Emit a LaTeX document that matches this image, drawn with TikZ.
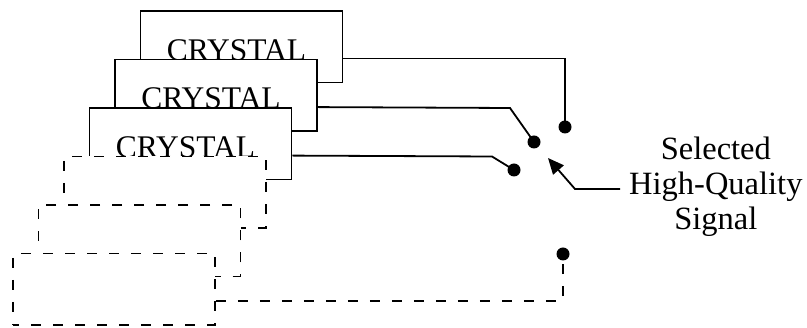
\documentclass[tikz,border=0pt]{standalone}
\usepackage{fontspec}
\setmainfont{Liberation Serif}
\usetikzlibrary{calc,arrows.meta}
\begin{document}
\begin{tikzpicture}[x=1pt,y=-1pt,
  crystalbox/.style={draw, fill=white, line width=1.8pt, rectangle, inner sep=0pt,
    minimum width=202pt, minimum height=71.5pt},
  ghostbox/.style={crystalbox, dash pattern=on 10pt off 12pt, dash phase=4pt},
  boxtext/.style={anchor=base, inner sep=0pt, font=\fontsize{31.5}{36}\selectfont},
  wire/.style={line width=1.8pt},
  ghostwire/.style={wire, dash pattern=on 10pt off 12pt},
  contact/.style={circle, fill=black, inner sep=0pt, minimum size=13pt},
  labeltext/.style={align=center, inner sep=0pt, font=\fontsize{32.5}{35}\selectfont}]
\useasboundingbox (0,0) rectangle (807,328);
% stacked crystals
\node[crystalbox] (b1) at (241.5,46.75) {};
\node[boxtext] (t1) at ($(b1.north)+(-5,50)$) {CRYSTAL};
\node[crystalbox] (b2) at (216,95.25) {};
\node[boxtext] (t2) at ($(b2.north)+(-5,50)$) {CRYSTAL};
\node[crystalbox] (b3) at (190.5,143.75) {};
\node[boxtext] (t3) at ($(b3.north)+(-5,50)$) {CRYSTAL};
\node[ghostbox] (b4) at (165,192.25) {};
\node[ghostbox] (b5) at (139.5,240.75) {};
\node[ghostbox] (b6) at (114,289.25) {};
% contacts
\node[contact] (d1) at (565,127) {};
\node[contact] (d2) at (534,142) {};
\node[contact] (d3) at (514,170) {};
\node[contact] (d4) at (563,254) {};
% wires
\draw[wire] ($(b1.north east)+(0,48.5)$) -| (d1.center);
\draw[wire] ($(b2.north east)+(0,48.5)$) -- (510,108) -- (d2.center);
\draw[wire] ($(b3.north east)+(0,48.5)$) -- (492,156.5) -- (d3.center);
\draw[ghostwire] ($(b6.north east)+(0,48.5)$) -| (d4.center);
% label
\node[labeltext, anchor=west] (sel) at (629,187) {Selected\\High-Quality\\Signal};
\coordinate (tip) at (548,158);
\draw[wire, -{Triangle[length=16pt,width=14pt]}] ([xshift=-9pt]sel.west |- 0,189) -- (575,189) -- (tip);
\end{tikzpicture}
\end{document}
